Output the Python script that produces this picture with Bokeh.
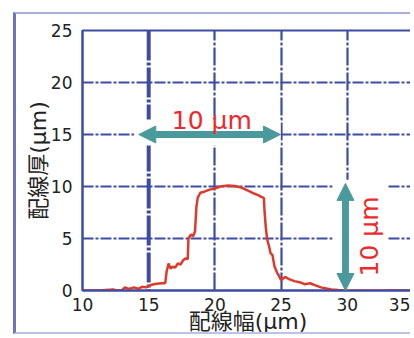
import math
from bokeh.plotting import figure
from bokeh.models import Range1d, Span, BoxAnnotation, Arrow, NormalHead, Label, FixedTicker
from bokeh.embed import file_html
from bokeh.resources import INLINE

# ---- data ----
x_um = [10.0, 11.5, 12.3, 12.5, 13.0, 13.2, 13.5, 13.9, 14.2, 14.5, 14.8, 15.2, 15.6, 16.0,
        16.25, 16.35, 16.5, 16.65, 16.8, 17.0, 17.2, 17.4, 17.6, 17.8, 17.95, 18.0, 18.2,
        18.35, 18.5, 18.6, 18.7, 18.9, 19.2, 19.6, 20.0, 20.4, 21.0, 21.5, 22.0, 22.5, 23.0,
        23.3, 23.5, 23.7, 23.75, 23.85, 23.95, 24.1, 24.2, 24.35, 24.5, 24.7, 24.8, 25.0,
        25.3, 25.6, 26.0, 26.4, 26.8, 27.2, 27.6, 28.0, 28.4, 28.8, 29.3, 30.0, 35.0]
thickness_um = [0.0, 0.02, 0.1, 0.02, 0.05, 0.3, 0.15, 0.3, 0.15, 0.35, 0.3, 0.55, 0.65, 0.7,
                0.7, 1.8, 2.6, 2.1, 2.3, 2.2, 2.6, 2.5, 2.9, 3.1, 3.0, 5.0, 5.4,
                5.2, 5.7, 8.0, 8.9, 9.4, 9.5, 9.7, 9.8, 10.0, 10.1, 10.05, 9.9, 9.6, 9.3,
                9.15, 9.0, 8.9, 7.6, 6.0, 4.9, 4.2, 3.6, 3.4, 2.3, 1.7, 1.5, 1.0,
                1.3, 1.1, 0.9, 0.8, 0.6, 0.7, 0.5, 0.3, 0.2, 0.1, 0.05, 0.0, 0.0]
x_ticks = [10, 15, 20, 25, 30, 35]
y_ticks = [0, 5, 10, 15, 20, 25]
x_label = "配線幅(µm)"
y_label = "配線厚(µm)"
note_text = "10 µm"

NAVY = "#3d4ca2"
RED_LINE = "#dc3b2c"
RED_TEXT = "#f0282c"
TEAL = "#4b9a9b"
LABEL_FONT = "DejaVu Sans, Noto Sans CJK JP"

p = figure(width=397, height=322, output_backend="svg", toolbar_location=None,
           x_range=Range1d(10, 35), y_range=Range1d(0, 25),
           min_border_left=66, min_border_right=0, min_border_top=16, min_border_bottom=46)
p.styles = {"margin-left": "13px", "margin-top": "12px",
            "border-left": "3px solid #6a74c0",
            "border-top": "2px solid #a9afdd",
            "border-bottom": "2px solid #bcc3e8"}
p.background_fill_color = "white"
p.border_fill_color = "white"
p.outline_line_color = NAVY
p.outline_line_width = 2

# axes
for ax in (p.xaxis, p.yaxis):
    ax.axis_line_color = NAVY
    ax.axis_line_width = 2
    ax.major_tick_line_color = None
    ax.minor_tick_line_color = None
    ax.major_label_text_font = "DejaVu Sans"
    ax.major_label_text_color = "#222222"
    ax.major_label_text_font_size = "17px"
    ax.axis_label_text_font = LABEL_FONT
    ax.axis_label_text_font_style = "normal"
    ax.axis_label_text_font_size = "22px"
    ax.axis_label_text_color = "#222222"
p.xaxis.ticker = FixedTicker(ticks=x_ticks)
p.yaxis.ticker = FixedTicker(ticks=y_ticks)
p.xaxis.major_label_standoff = 1
p.yaxis.major_label_standoff = 4
p.xaxis.axis_label = x_label
p.yaxis.axis_label = y_label
p.xaxis.axis_label_standoff = -5
p.yaxis.axis_label_standoff = -3

# grid
p.xgrid.ticker = FixedTicker(ticks=[20, 25, 30])
p.ygrid.ticker = FixedTicker(ticks=[5, 10, 15, 20])
p.xgrid.grid_line_color = NAVY
p.ygrid.grid_line_color = NAVY
p.xgrid.grid_line_width = 2.2
p.ygrid.grid_line_width = 2
p.xgrid.grid_line_dash = "18 2 3 2"
p.ygrid.grid_line_dash = "11 2 3 2"
p.add_layout(Span(location=15, dimension="height", line_color=NAVY, line_width=4,
                  line_dash="30 2 3 2", level="underlay"))

# white boxes behind the annotations
p.add_layout(BoxAnnotation(left=13.9, right=24.97, bottom=13.95, top=16.45,
                           fill_color="white", fill_alpha=1, line_color=None, level="underlay"))
p.add_layout(BoxAnnotation(left=28.9, right=33.0, bottom=0, top=10.65,
                           fill_color="white", fill_alpha=1, line_color=None, level="underlay"))

# profile
p.line(x_um, thickness_um, line_color=RED_LINE, line_width=2.5)

# arrows
p.add_layout(Arrow(x_start=14.25, y_start=15, x_end=24.95, y_end=15,
                   start=NormalHead(size=17, fill_color=TEAL, line_color=TEAL),
                   end=NormalHead(size=17, fill_color=TEAL, line_color=TEAL),
                   line_color=TEAL, line_width=7))
p.add_layout(Arrow(x_start=29.86, y_start=0.0, x_end=29.86, y_end=10.3,
                   start=NormalHead(size=17, fill_color=TEAL, line_color=TEAL),
                   end=NormalHead(size=17, fill_color=TEAL, line_color=TEAL),
                   line_color=TEAL, line_width=7))

p.add_layout(Label(x=19.77, y=16.35, text=note_text, text_font="DejaVu Sans",
                   text_font_size="25px", text_color=RED_TEXT,
                   text_align="center", text_baseline="alphabetic"))
p.add_layout(Label(x=31.65, y=5.2, text=note_text, text_font="DejaVu Sans",
                   text_font_size="25px", text_color=RED_TEXT, angle=math.pi / 2,
                   text_align="center", text_baseline="middle"))

open("out.html", "w").write(file_html(p, INLINE))
